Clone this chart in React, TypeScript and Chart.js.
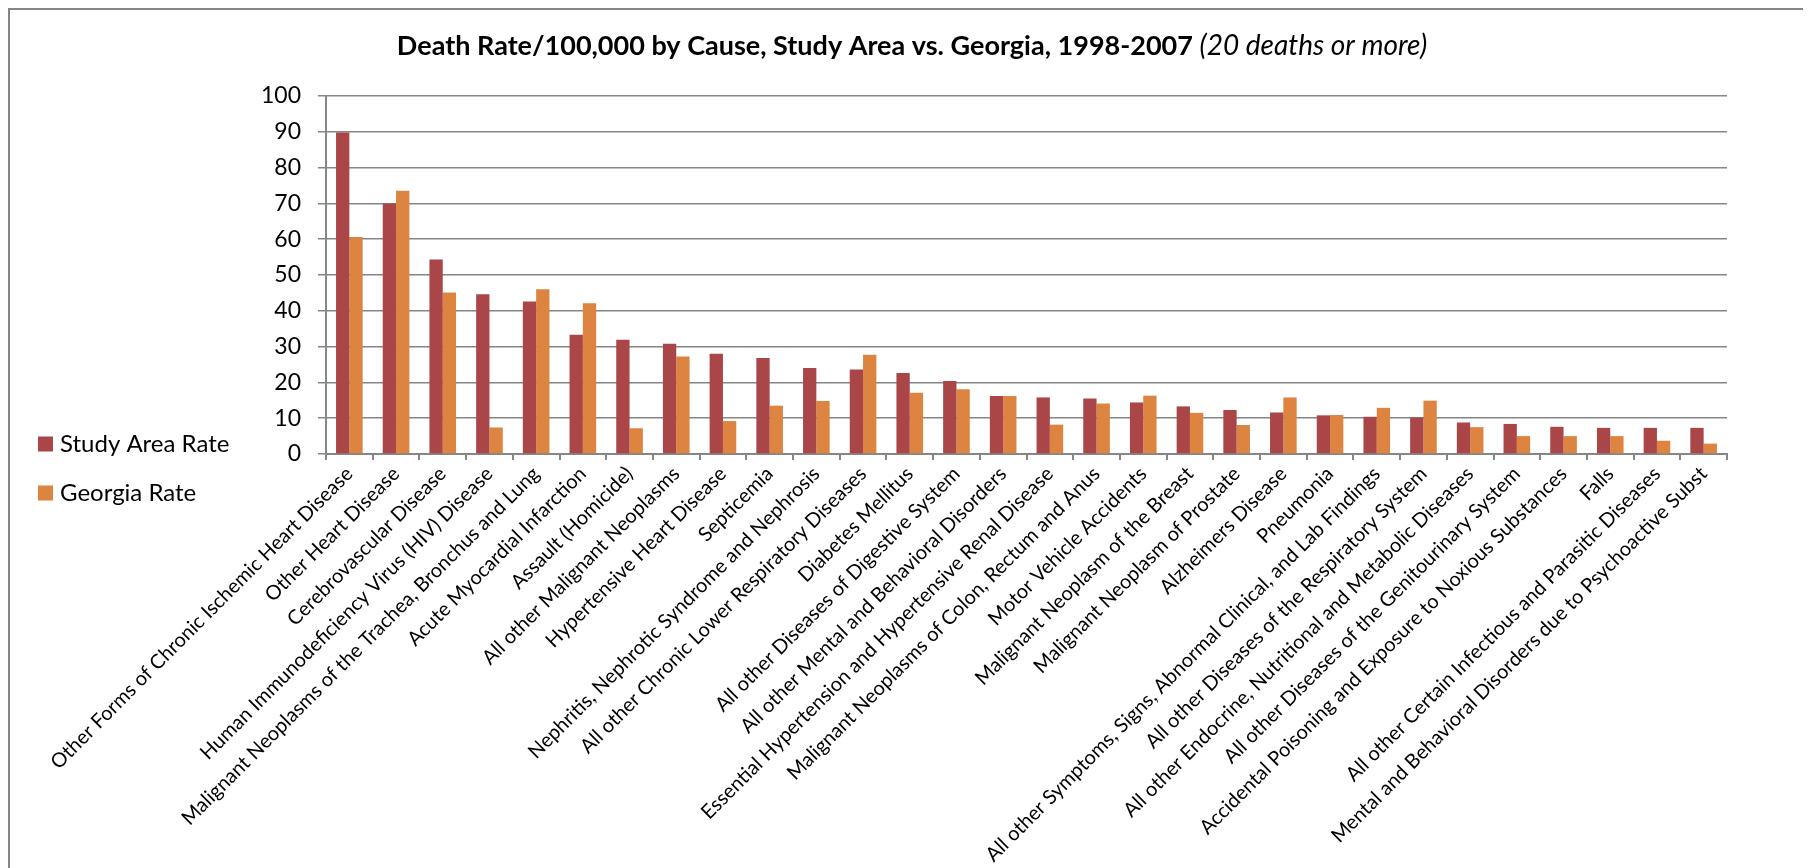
import React, { useEffect, useRef } from "react";
import { Chart, registerables } from "chart.js";

Chart.register(...registerables);

const TITLE_MAIN = "Death Rate/100,000 by Cause, Study Area vs. Georgia, 1998-2007";
const TITLE_NOTE = "(20 deaths or more)";

const categories = [
  "Other Forms of Chronic Ischemic Heart Disease",
  "Other Heart Disease",
  "Cerebrovascular Disease",
  "Human Immunodeficiency Virus (HIV) Disease",
  "Malignant Neoplasms of the Trachea, Bronchus and Lung",
  "Acute Myocardial Infarction",
  "Assault (Homicide)",
  "All other Malignant Neoplasms",
  "Hypertensive Heart Disease",
  "Septicemia",
  "Nephritis, Nephrotic Syndrome and Nephrosis",
  "All other Chronic Lower Respiratory Diseases",
  "Diabetes Mellitus",
  "All other Diseases of Digestive System",
  "All other Mental and Behavioral Disorders",
  "Essential Hypertension and Hypertensive Renal Disease",
  "Malignant Neoplasms of Colon, Rectum and Anus",
  "Motor Vehicle Accidents",
  "Malignant Neoplasm of the Breast",
  "Malignant Neoplasm of Prostate",
  "Alzheimers Disease",
  "Pneumonia",
  "All other Symptoms, Signs, Abnormal Clinical, and Lab Findings",
  "All other Diseases of the Respiratory System",
  "All other Endocrine, Nutritional and Metabolic Diseases",
  "All other Diseases of the Genitourinary System",
  "Accidental Poisoning and Exposure to Noxious Substances",
  "Falls",
  "All other Certain Infectious and Parasitic Diseases",
  "Mental and Behavioral Disorders due to Psychoactive Subst",
];

const studyAreaRate = [
  89.8, 70.0, 54.3, 44.6, 42.6, 33.3, 31.9, 30.8, 28.0, 26.8,
  24.0, 23.6, 22.6, 20.4, 16.2, 15.8, 15.5, 14.4, 13.3, 12.3,
  11.6, 10.8, 10.4, 10.2, 8.8, 8.4, 7.6, 7.3, 7.3, 7.3,
];

const georgiaRate = [
  60.6, 73.5, 45.1, 7.4, 46.0, 42.1, 7.2, 27.2, 9.2, 13.5,
  14.8, 27.7, 17.1, 18.1, 16.2, 8.2, 14.1, 16.3, 11.5, 8.1,
  15.8, 10.9, 12.9, 14.9, 7.5, 5.0, 5.0, 5.0, 3.7, 2.9,
];

const seriesNames = ["Study Area Rate", "Georgia Rate"];
const yMin = 0;
const yMax = 100;
const yStep = 10;

const RED = "#AA4648";
const ORANGE = "#DC8440";
const GRID = "#868686";
const FONT = "Lato, 'Open Sans', sans-serif";

const titlePlugin = {
  id: "mixedTitle",
  afterDraw(chart: any) {
    const ctx = chart.ctx;
    ctx.save();
    const bold = `bold 27px ${FONT}`;
    const ital = `italic 28px ${FONT}`;
    ctx.font = bold;
    const w1 = ctx.measureText(TITLE_MAIN + " ").width;
    ctx.font = ital;
    const w2 = ctx.measureText(TITLE_NOTE).width;
    const x0 = 902 - (w1 + w2) / 2;
    ctx.fillStyle = "#000";
    ctx.textBaseline = "middle";
    ctx.textAlign = "left";
    ctx.font = bold;
    ctx.fillText(TITLE_MAIN + " ", x0, 36);
    ctx.font = ital;
    ctx.fillText(TITLE_NOTE, x0 + w1, 36);
    ctx.restore();
  },
};

const legendPlugin = {
  id: "sideLegend",
  afterDraw(chart: any) {
    const ctx = chart.ctx;
    ctx.save();
    ctx.font = `24px ${FONT}`;
    ctx.textBaseline = "middle";
    ctx.textAlign = "left";
    const rows = [434, 483];
    chart.data.datasets.forEach((ds: any, i: number) => {
      const cy = rows[i];
      ctx.fillStyle = ds.backgroundColor;
      ctx.fillRect(28, cy - 7.5, 15, 15);
      ctx.fillStyle = "#000";
      ctx.fillText(ds.label, 50, cy);
    });
    ctx.restore();
  },
};

export default function App() {
  const ref = useRef<HTMLCanvasElement | null>(null);

  useEffect(() => {
    if (!ref.current) return;
    const chart = new Chart(ref.current, {
      type: "bar",
      data: {
        labels: categories,
        datasets: [
          {
            label: seriesNames[0],
            data: studyAreaRate,
            backgroundColor: RED,
            categoryPercentage: 0.57,
            barPercentage: 1.0,
          },
          {
            label: seriesNames[1],
            data: georgiaRate,
            backgroundColor: ORANGE,
            categoryPercentage: 0.57,
            barPercentage: 1.0,
          },
        ],
      },
      options: {
        responsive: false,
        animation: false,
        layout: { padding: { left: 0, right: 84, top: 86, bottom: 0 } },
        plugins: {
          legend: { display: false },
          title: { display: false },
          tooltip: { enabled: false },
        },
        scales: {
          x: {
            grid: {
              offset: true,
              drawOnChartArea: false,
              drawTicks: true,
              tickLength: 6,
              color: GRID,
              lineWidth: 2,
            },
            border: { display: true, color: GRID, width: 2 },
            ticks: {
              autoSkip: false,
              minRotation: 45,
              maxRotation: 45,
              color: "#000",
              padding: 2,
              font: { family: FONT, size: 20 },
            },
            afterFit(scale: any) {
              scale.height = 414;
            },
          },
          y: {
            min: yMin,
            max: yMax,
            ticks: {
              stepSize: yStep,
              color: "#000",
              padding: 17,
              font: { family: FONT, size: 23 },
            },
            grid: {
              color: GRID,
              lineWidth: 1.5,
              drawTicks: true,
              tickLength: 8,
            },
            border: { display: true, color: GRID, width: 2 },
            afterFit(scale: any) {
              scale.width = 316;
            },
          },
        },
      },
      plugins: [titlePlugin, legendPlugin],
    });
    return () => chart.destroy();
  }, []);

  return (
    <div
      style={{
        boxSizing: "border-box",
        width: 1803,
        height: 860,
        borderTop: "2px solid #858585",
        borderLeft: "2px solid #858585",
        background: "#fff",
        overflow: "hidden",
      }}
    >
      <canvas ref={ref} width={1801} height={858} style={{ display: "block" }} />
    </div>
  );
}
